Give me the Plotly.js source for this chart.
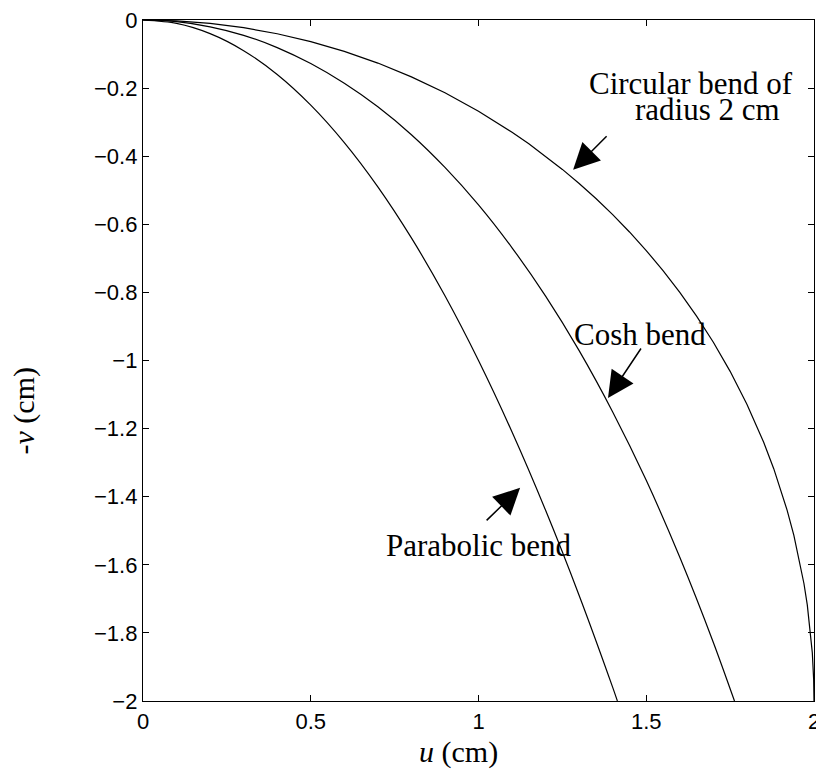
<!DOCTYPE html>
<html>
<head>
<meta charset="utf-8">
<script src="https://cdn.plot.ly/plotly-3.0.1.min.js"></script>
<style>html,body{margin:0;padding:0;background:#fff;}#chart{width:816px;height:769px;}</style>
</head>
<body>
<div id="chart"></div>
<script>
// Parabolic bend (u in cm, -v in cm)
const parabolicU = [0, 0.1, 0.2, 0.3, 0.4, 0.5, 0.6, 0.7, 0.8, 0.9, 1.0, 1.1, 1.2, 1.3, 1.4, 1.414];
const parabolicV = [0, -0.01, -0.04, -0.09, -0.16, -0.25, -0.36, -0.49, -0.64, -0.81, -1.00, -1.21, -1.44, -1.69, -1.96, -2.00];

// Cosh bend
const coshU = [0, 0.1, 0.2, 0.3, 0.4, 0.5, 0.6, 0.7, 0.8, 0.9, 1.0, 1.1, 1.2, 1.3, 1.4, 1.5, 1.6, 1.7, 1.763];
const coshV = [0, -0.005, -0.020, -0.045, -0.081, -0.128, -0.186, -0.255, -0.337, -0.433, -0.543, -0.669, -0.811, -0.971, -1.151, -1.352, -1.578, -1.828, -2.00];

// Circular bend of radius 2 cm
const circU = [0, 0.1, 0.2, 0.3, 0.4, 0.5, 0.6, 0.7, 0.8, 0.9, 1.0, 1.05, 1.1, 1.15, 1.2, 1.25, 1.3, 1.35, 1.4, 1.45, 1.5, 1.55, 1.6, 1.65, 1.7, 1.75, 1.8, 1.85, 1.88, 1.9, 1.92, 1.94, 1.96, 1.97, 1.98, 1.99, 1.995, 1.999, 2.0];
const circV = [0, -0.0025, -0.010, -0.0226, -0.0404, -0.0635, -0.0921, -0.1265, -0.167, -0.2139, -0.2679, -0.2978, -0.3297, -0.3637, -0.400, -0.4388, -0.4801, -0.5244, -0.5717, -0.6225, -0.6771, -0.7361, -0.800, -0.8697, -0.9464, -1.0318, -1.1282, -1.2401, -1.3177, -1.3755, -1.440, -1.5138, -1.602, -1.6549, -1.7179, -1.8003, -1.8587, -1.9368, -2.00];

const xTicks = [0, 0.5, 1, 1.5, 2];
const xTickText = ['0', '0.5', '1', '1.5', '2'];
const yTicks = [0, -0.2, -0.4, -0.6, -0.8, -1, -1.2, -1.4, -1.6, -1.8, -2];
const yTickText = ['0', '\u22120.2', '\u22120.4', '\u22120.6', '\u22120.8', '\u22121', '\u22121.2', '\u22121.4', '\u22121.6', '\u22121.8', '\u22122'];

const serif = '"Liberation Serif", "Times New Roman", Times, serif';
const sans = '"Liberation Sans", Arial, Helvetica, sans-serif';
const lineStyle = {color: '#000', width: 1.2};

const traces = [
  {x: parabolicU, y: parabolicV, mode: 'lines', line: Object.assign({shape: 'spline', smoothing: 0.8}, lineStyle), name: 'Parabolic bend', hoverinfo: 'skip'},
  {x: coshU, y: coshV, mode: 'lines', line: Object.assign({shape: 'spline', smoothing: 0.8}, lineStyle), name: 'Cosh bend', hoverinfo: 'skip'},
  {x: circU, y: circV, mode: 'lines', line: Object.assign({shape: 'linear'}, lineStyle), name: 'Circular bend', hoverinfo: 'skip'}
];

const axisCommon = {
  showgrid: false, zeroline: false, showline: true, mirror: 'ticks',
  linecolor: '#000', linewidth: 1.2, ticks: 'inside', ticklen: 6, tickwidth: 1, tickcolor: '#000',
  tickfont: {family: sans, size: 22, color: '#000'}, ticklabeloverflow: 'allow'
};

const arrowCommon = {showarrow: true, arrowhead: 2, arrowsize: 3.5, arrowwidth: 1.5, arrowcolor: '#000', text: ''};
const textCommon = {showarrow: false, font: {family: serif, size: 31, color: '#000'}, xanchor: 'center', yanchor: 'middle', borderpad: 0};

const layout = {
  width: 816, height: 769,
  margin: {l: 143, r: 2, t: 20, b: 68},
  paper_bgcolor: '#fff', plot_bgcolor: '#fff',
  showlegend: false,
  xaxis: Object.assign({range: [0, 2], tickvals: xTicks, ticktext: xTickText}, axisCommon),
  yaxis: Object.assign({range: [-2, 0], tickvals: yTicks, ticktext: yTickText}, axisCommon),
  annotations: [
    Object.assign({}, textCommon, {x: 1.632, y: -0.186, text: 'Circular bend of'}),
    Object.assign({}, textCommon, {x: 1.683, y: -0.262, text: 'radius 2 cm'}),
    Object.assign({}, arrowCommon, {x: 1.282, y: -0.440, ax: 35, ay: -35}),
    Object.assign({}, textCommon, {x: 1.481, y: -0.925, text: 'Cosh bend'}),
    Object.assign({}, arrowCommon, {x: 1.386, y: -1.110, ax: 34, ay: -51}),
    Object.assign({}, textCommon, {x: 1.0, y: -1.543, text: 'Parabolic bend'}),
    Object.assign({}, arrowCommon, {x: 1.124, y: -1.374, ax: -35, ay: 34}),
    Object.assign({}, textCommon, {xref: 'paper', yref: 'paper', x: 0.470, y: -0.0750, text: '<i>u</i> (cm)', font: {family: serif, size: 30, color: '#000'}}),
    Object.assign({}, textCommon, {xref: 'paper', yref: 'paper', x: -0.178, y: 0.426, text: '-<i>v</i> (cm)', textangle: -90, font: {family: serif, size: 30, color: '#000'}})
  ]
};

Plotly.newPlot('chart', traces, layout, {staticPlot: true, displayModeBar: false});
</script>
</body>
</html>
